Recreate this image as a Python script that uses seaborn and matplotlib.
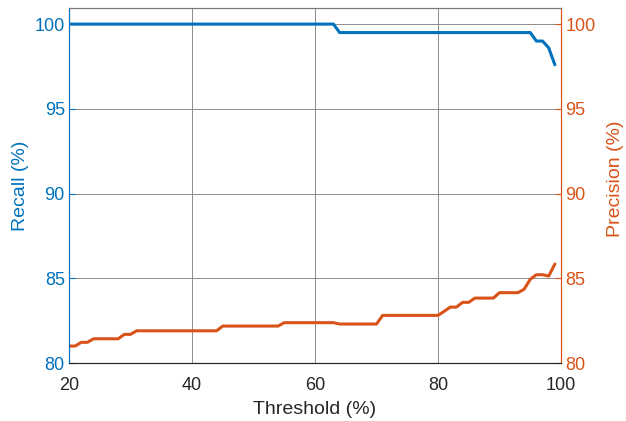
import matplotlib
matplotlib.use("Agg")
import matplotlib.pyplot as plt
import seaborn as sns
import pandas as pd

# threshold values (%) and the two curves
threshold = list(range(20, 100))

recall = [100.0] * 44 + [99.5] * 32 + [99.0, 99.0, 98.6, 97.6]

precision = ([81.0, 81.0, 81.22, 81.22] + [81.43] * 5 + [81.69, 81.69]
             + [81.9] * 14 + [82.18] * 10 + [82.38] * 9 + [82.3] * 7
             + [82.81] * 10 + [83.05, 83.3, 83.3, 83.58, 83.58]
             + [83.83] * 4 + [84.15] * 4
             + [84.35, 84.94, 85.21, 85.21, 85.13, 85.84])

df = pd.DataFrame({"threshold": threshold, "recall": recall, "precision": precision})

blue = "#0072BD"
orange = "#D95319"
dark = "#262626"

sns.set_style("white")
plt.rcParams["font.family"] = ["Liberation Sans", "DejaVu Sans"]
plt.rcParams["xtick.direction"] = "in"
plt.rcParams["ytick.direction"] = "in"

fig = plt.figure(figsize=(6.26, 4.21), dpi=100)
ax = fig.add_axes([69 / 626, 1 - 363 / 421, (561 - 69) / 626, (363 - 8) / 421])

sns.lineplot(data=df, x="threshold", y="recall", ax=ax, color=blue, linewidth=2.2)
ax2 = ax.twinx()
sns.lineplot(data=df, x="threshold", y="precision", ax=ax2, color=orange, linewidth=2.2)

for a in (ax, ax2):
    a.set_ylim(80, 100.95)
    a.set_yticks([80, 85, 90, 95, 100])
ax.set_xlim(20, 100)
ax.set_xticks([20, 40, 60, 80, 100])

ax.grid(True, color="#8c8c8c", linewidth=0.7)
ax.set_axisbelow(True)

ax.set_xlabel("Threshold (%)", fontsize=14, color=dark, labelpad=5)
ax.set_ylabel("Recall (%)", fontsize=14, color=blue, labelpad=4)
ax2.set_ylabel("Precision (%)", fontsize=14, color=orange)
ax2.yaxis.set_label_coords(1.093, 0.52)

ax.tick_params(axis="x", colors=dark, labelsize=13, length=4, width=0.8, pad=10)
ax.tick_params(axis="y", colors=blue, labelsize=13, length=4, width=0.8, pad=3)
ax2.tick_params(axis="y", colors=orange, labelsize=13, length=4, width=0.8, pad=3)

for a in (ax, ax2):
    a.spines["bottom"].set_color(dark)
    a.spines["top"].set_color("#7a7a7a")
    a.spines["left"].set_color(blue)
    a.spines["right"].set_color(orange)
    for s in a.spines.values():
        s.set_linewidth(0.8)

fig.savefig("out.png", dpi=100)
